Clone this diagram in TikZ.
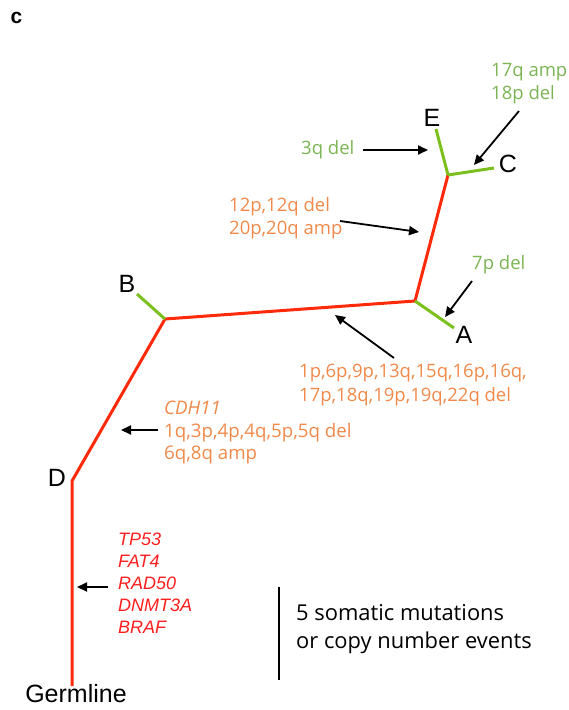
\documentclass[tikz,border=0pt]{standalone}
\usepackage{fontspec}
\setmainfont{Open Sans}
\newfontfamily\helv{Liberation Sans}
\usetikzlibrary{arrows.meta}
\definecolor{trunk}{HTML}{FF2A0A}
\definecolor{leaf}{HTML}{7CC01E}
\definecolor{cnorange}{HTML}{F0894A}
\definecolor{cngreen}{HTML}{7BB553}
\definecolor{genered}{HTML}{FF1E1E}
\tikzset{
  trunkline/.style={draw=trunk, line width=3pt},
  leafline/.style={draw=leaf, line width=3pt},
  pointer/.style={draw=black, line width=1.8pt, -{Triangle[length=10pt,width=9pt]}},
  leaflabel/.style={font=\helv\fontsize{25}{25}\selectfont, inner sep=0pt},
  events/.style={font=\fontsize{18.5}{23.5}\selectfont, align=left, inner sep=0pt, anchor=west},
}
\begin{document}
\begin{tikzpicture}[x=1pt, y=-1pt]
  \useasboundingbox (0,0) rectangle (568,710);
  % panel letter
  \node[font=\helv\bfseries\fontsize{21}{21}\selectfont, inner sep=0pt] (panel) at (16.5,17.5) {c};

  % tree vertices
  \coordinate (root) at (72,686);
  \coordinate (nD) at (72,481);
  \coordinate (nB) at (165,319);
  \coordinate (nA) at (415,301);
  \coordinate (nEC) at (448,175);
  \coordinate (tipB) at (137,294);
  \coordinate (tipA) at (454,328);
  \coordinate (tipE) at (436,129);
  \coordinate (tipC) at (494,168);

  % trunk and inner branches
  \draw[trunkline, line join=miter] (root) -- (nD) -- (nB) -- (nA) -- (nEC);
  % leaf branches
  \draw[leafline] (nB) -- (tipB);
  \draw[leafline] (nA) -- (tipA);
  \draw[leafline] (nEC) -- (tipE);
  \draw[leafline] (nEC) -- (tipC);

  % sample labels
  \node[leaflabel] (lE) at (432,118) {E};
  \node[leaflabel] (lC) at (508,164) {C};
  \node[leaflabel] (lA) at (464,335) {A};
  \node[leaflabel] (lB) at (127,284) {B};
  \node[leaflabel] (lD) at (57,478) {D};
  \node[leaflabel] (lG) at (76,694) {Germline};

  % events on each branch
  \node[events, text=cngreen] (t3q) at (301,150) {3q del};
  \coordinate (t3qa) at (363,150);
  \coordinate (h3q) at (428,150);
  \draw[pointer] (t3qa) -- (h3q);

  \node[events, text=cngreen] (t17) at (491,83.5) {17q amp\\18p del};
  \coordinate (t17a) at (519,111);
  \coordinate (h17) at (474,165);
  \draw[pointer] (t17a) -- (h17);

  \node[events, text=cnorange] (t12) at (229,218) {12p,12q del\\20p,20q amp};
  \coordinate (t12a) at (340,221);
  \coordinate (h12) at (419,232);
  \draw[pointer] (t12a) -- (h12);

  \node[events, text=cngreen] (t7p) at (472,265) {7p del};
  \coordinate (t7pa) at (472,281);
  \coordinate (h7p) at (445,317);
  \draw[pointer] (t7pa) -- (h7p);

  \node[events, text=cnorange] (t1p) at (299,385) {1p,6p,9p,13q,15q,16p,16q,\\17p,18q,19p,19q,22q del};
  \coordinate (t1pa) at (394,358);
  \coordinate (h1p) at (335,315);
  \draw[pointer] (t1pa) -- (h1p);

  \node[events, text=cnorange, font=\fontsize{18.7}{22.5}\selectfont] (tcdh) at (164,432.5)
    {\itshape CDH11\\1q,3p,4p,4q,5p,5q del\\6q,8q amp};
  \coordinate (tcdha) at (158,430);
  \coordinate (hcdh) at (121,430);
  \draw[pointer] (tcdha) -- (hcdh);

  \node[events, text=genered, font=\helv\itshape\fontsize{18}{21.9}\selectfont] (tgenes) at (118,583)
    {TP53\\FAT4\\RAD50\\DNMT3A\\BRAF};
  \coordinate (tgenesa) at (108,587);
  \coordinate (hgenes) at (77,587);
  \draw[pointer] (tgenesa) -- (hgenes);

  % scale bar
  \coordinate (barTop) at (279,587);
  \coordinate (barBot) at (279,680);
  \draw[line width=2pt] (barTop) -- (barBot);
  \node[events, font=\fontsize{21.9}{28}\selectfont] (tscale) at (296,629)
    {5 somatic mutations\\or copy number events};
\end{tikzpicture}
\end{document}
